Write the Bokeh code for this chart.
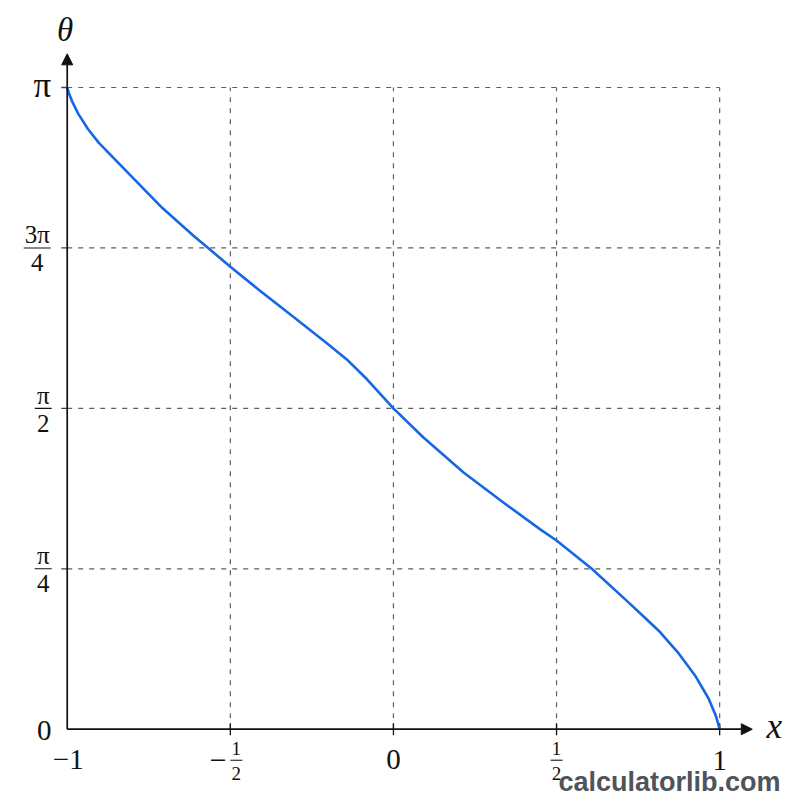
from bokeh.plotting import figure
from bokeh.models import Range1d, Arrow, NormalHead, Label, Grid
from bokeh.core.properties import value
from bokeh.embed import file_html
from bokeh.resources import INLINE

# ---- data (theta expressed in units of pi) ----
x_vals = [-1.0, -0.995, -0.985, -0.966, -0.937, -0.903, -0.806, -0.709, -0.612, -0.568,
          -0.5, -0.412, -0.308, -0.205, -0.143, -0.081, 0.0, 0.092, 0.215, 0.338,
          0.451, 0.5, 0.608, 0.713, 0.766, 0.818, 0.871, 0.924, 0.966, 0.989, 1.0]
theta_over_pi = [1.0, 0.9915, 0.9785, 0.959, 0.9358, 0.9137, 0.863, 0.8125, 0.7686, 0.75,
                 0.7206, 0.6846, 0.6433, 0.602, 0.5763, 0.5453, 0.5, 0.4546, 0.40, 0.353,
                 0.311, 0.294, 0.25, 0.2011, 0.176, 0.151, 0.1202, 0.0842, 0.0479, 0.020, 0.0]

x_ticks = [-0.5, 0.0, 0.5, 1.0]
y_ticks = [0.25, 0.5, 0.75, 1.0]

# ---- layout constants (pixels per data unit) ----
SX = 326.2
SY = 641.7
X_RANGE = (-1.2045, 1.2478)
Y_RANGE = (-0.1111, 1.1356)
X_ARROW_END = 1.1
Y_ARROW_END = 1.0525

SERIF = "Liberation Serif"
INK = "#111111"
GRID = "#5f5f5f"
BLUE = "#1766e3"

p = figure(width=800, height=800, x_range=Range1d(*X_RANGE), y_range=Range1d(*Y_RANGE),
           output_backend="svg", toolbar_location=None,
           x_axis_location=None, y_axis_location=None, min_border=0)
p.outline_line_color = None
p.background_fill_color = "white"
p.border_fill_color = "white"
for g in p.select(type=Grid):
    g.visible = False

# dashed grid
p.segment(x0=x_ticks, y0=[0] * len(x_ticks), x1=x_ticks, y1=[1] * len(x_ticks),
          line_color=GRID, line_width=1.2, line_dash="5 6")
p.segment(x0=[-1] * len(y_ticks), y0=y_ticks, x1=[1] * len(y_ticks), y1=y_ticks,
          line_color=GRID, line_width=1.2, line_dash="5 6")

# tick marks
tx = 6.0 / SX
ty = 6.0 / SY
p.segment(x0=x_ticks, y0=[-ty] * len(x_ticks), x1=x_ticks, y1=[ty] * len(x_ticks),
          line_color=INK, line_width=1.3)
p.segment(x0=[-1 - tx] * len(y_ticks), y0=y_ticks, x1=[-1] * len(y_ticks), y1=y_ticks,
          line_color="#444444", line_width=1.3)

# curve
p.line(x_vals, theta_over_pi, line_color=BLUE, line_width=2.6, line_join="round")

# axes with arrows
head = dict(size=11, fill_color=INK, line_color=INK)
p.add_layout(Arrow(end=NormalHead(**head), x_start=-1, y_start=0, x_end=X_ARROW_END, y_end=0,
                   line_color=INK, line_width=1.7))
p.add_layout(Arrow(end=NormalHead(**head), x_start=-1, y_start=0, x_end=-1, y_end=Y_ARROW_END,
                   line_color=INK, line_width=1.7))

def txt(x, y, s, size, dx=0, dy=0, style="normal", align="center"):
    p.text(x=[x], y=[y], text=[s], text_font=value(SERIF), text_font_size=f"{size}px",
           text_font_style=style, text_align=align, text_baseline="middle",
           x_offset=dx, y_offset=dy, text_color=INK)

def frac(x, y, num, den, cx, cy, w, size=25, up=13, down=15):
    # cx, cy: pixel offset of the fraction bar centre from (x, y)
    xc = x + cx / SX
    yc = y - cy / SY
    p.segment(x0=[xc - w / 2 / SX], y0=[yc], x1=[xc + w / 2 / SX], y1=[yc],
              line_color=INK, line_width=1.1)
    txt(x, y, num, size, dx=cx, dy=cy - up)
    txt(x, y, den, size, dx=cx, dy=cy + down)

# y tick labels
txt(-1, 0.0, "0", 29, dx=-23, dy=1)
frac(-1, 0.25, "π", "4", -24, 0, 17)
frac(-1, 0.5, "π", "2", -24, 0, 17)
frac(-1, 0.75, "3π", "4", -30, 0, 27)
txt(-1, 1.0, "π", 35, dx=-25, dy=-2)

# x tick labels
txt(-1, 0, "−1", 29, dx=1, dy=30)
txt(-0.5, 0, "−", 30, dx=-12, dy=31)
frac(-0.5, 0, "1", "2", 6, 31, 12, size=19, up=12, down=13)
txt(0.0, 0, "0", 29, dx=0, dy=30)
frac(0.5, 0, "1", "2", 0, 31, 12, size=19, up=12, down=13)
txt(1.0, 0, "1", 29, dx=0, dy=31)

# axis names
txt(-1, Y_ARROW_END, "θ", 33, dx=-2, dy=-24, style="italic")
txt(X_ARROW_END, 0, "x", 35, dx=22, dy=-3, style="italic")

# watermark
p.add_layout(Label(x=558, y=19, x_units="screen", y_units="screen", text="calculatorlib.com",
                   text_font="Liberation Sans", text_font_size="27px",
                   text_font_style="bold", text_color="#4f545b", text_baseline="alphabetic"))

open("out.html", "w").write(file_html(p, INLINE))
